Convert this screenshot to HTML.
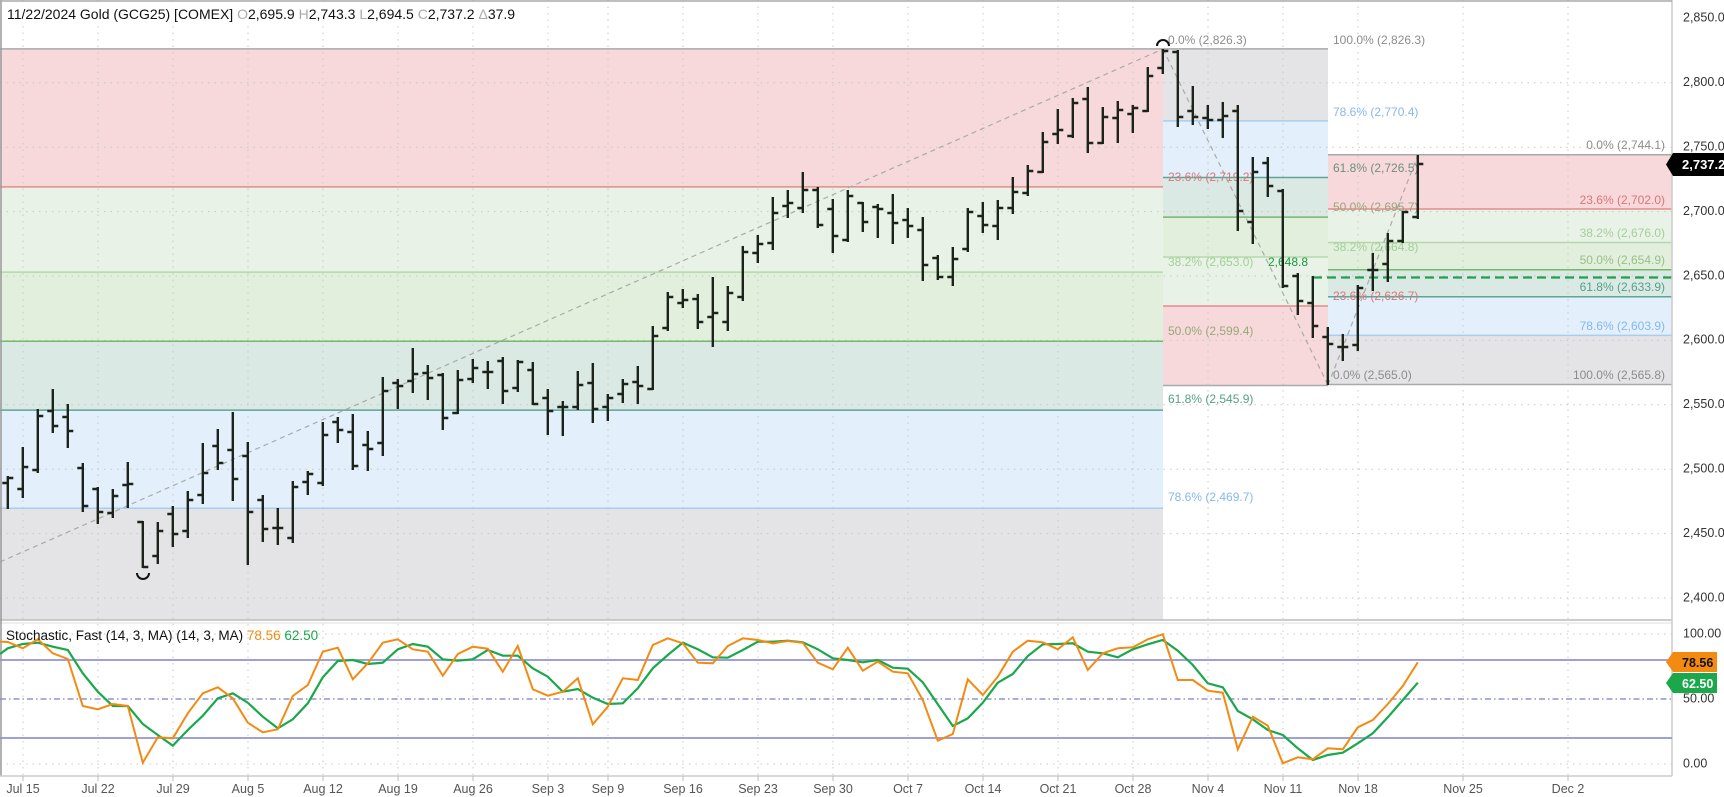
<!DOCTYPE html>
<html><head><meta charset="utf-8"><style>
html,body{margin:0;padding:0;background:#fff;}
svg{display:block;font-family:"Liberation Sans",sans-serif;}
</style></head><body>
<svg id="c" width="1724" height="797" xmlns="http://www.w3.org/2000/svg">
<rect x="0" y="0" width="1724" height="797" fill="#fff"/>
<!-- left fib bands -->
<rect x="0" y="48.9" width="1163" height="138" fill="#f7d9db"/>
<rect x="0" y="186.9" width="1163" height="85.2" fill="#e9f2e6"/>
<rect x="0" y="272.1" width="1163" height="69.1" fill="#e2efdd"/>
<rect x="0" y="341.2" width="1163" height="68.9" fill="#dbe9e5"/>
<rect x="0" y="410.1" width="1163" height="98.1" fill="#e3effb"/>
<rect x="0" y="508.2" width="1163" height="112" fill="#e4e4e6"/>
<!-- middle fib bands -->
<rect x="1163" y="48.9" width="165" height="72" fill="#e4e4e6"/>
<rect x="1163" y="120.9" width="165" height="56.6" fill="#e3effb"/>
<rect x="1163" y="177.5" width="165" height="39.6" fill="#dbe9e5"/>
<rect x="1163" y="217.1" width="165" height="39.9" fill="#e2efdd"/>
<rect x="1163" y="257" width="165" height="49" fill="#e9f2e6"/>
<rect x="1163" y="306" width="165" height="79.5" fill="#f7d9db"/>
<!-- right fib bands -->
<rect x="1328" y="154.8" width="344" height="54.2" fill="#f7d9db"/>
<rect x="1328" y="209" width="344" height="33.5" fill="#e9f2e6"/>
<rect x="1328" y="242.5" width="344" height="27.2" fill="#e2efdd"/>
<rect x="1328" y="269.7" width="344" height="27" fill="#dbe9e5"/>
<rect x="1328" y="296.7" width="344" height="38.7" fill="#e3effb"/>
<rect x="1328" y="335.4" width="344" height="49.1" fill="#e4e4e6"/>
<g id="grid" stroke="#c8c8c8" stroke-width="1" stroke-dasharray="1.5,5"></g>
<!-- fib lines -->
<g stroke-width="1.5" fill="none">
<line x1="0" y1="48.9" x2="1328" y2="48.9" stroke="#a9a9a9"/>
<line x1="0" y1="186.9" x2="1163" y2="186.9" stroke="#e58a8c"/>
<line x1="0" y1="272.1" x2="1163" y2="272.1" stroke="#b5d8ab"/>
<line x1="0" y1="341.2" x2="1163" y2="341.2" stroke="#74b86d"/>
<line x1="0" y1="410.1" x2="1163" y2="410.1" stroke="#5ea595"/>
<line x1="0" y1="508.2" x2="1163" y2="508.2" stroke="#a9cdf0"/>
<line x1="1163" y1="120.9" x2="1328" y2="120.9" stroke="#a9cdf0"/>
<line x1="1163" y1="177.5" x2="1328" y2="177.5" stroke="#5ea595"/>
<line x1="1163" y1="217.1" x2="1328" y2="217.1" stroke="#74b86d"/>
<line x1="1163" y1="257" x2="1328" y2="257" stroke="#b5d8ab"/>
<line x1="1163" y1="306" x2="1328" y2="306" stroke="#e58a8c"/>
<line x1="1163" y1="385.5" x2="1328" y2="385.5" stroke="#a9a9a9"/>
<line x1="1328" y1="154.8" x2="1672" y2="154.8" stroke="#a9a9a9"/>
<line x1="1328" y1="209" x2="1672" y2="209" stroke="#e58a8c"/>
<line x1="1328" y1="242.5" x2="1672" y2="242.5" stroke="#b5d8ab"/>
<line x1="1328" y1="269.7" x2="1672" y2="269.7" stroke="#74b86d"/>
<line x1="1328" y1="296.7" x2="1672" y2="296.7" stroke="#5ea595"/>
<line x1="1328" y1="335.4" x2="1672" y2="335.4" stroke="#a9cdf0"/>
<line x1="1328" y1="384.5" x2="1672" y2="384.5" stroke="#a9a9a9"/>
<line x1="1313" y1="277.5" x2="1672" y2="277.5" stroke="#22a04a" stroke-width="2.2" stroke-dasharray="9,5"/>
<line x1="0" y1="562" x2="1163" y2="49" stroke="#aaa" stroke-width="1.2" stroke-dasharray="5,4"/>
<line x1="1163" y1="49" x2="1328" y2="385" stroke="#aaa" stroke-width="1.2" stroke-dasharray="5,4"/>
<line x1="1328" y1="385" x2="1418" y2="155" stroke="#aaa" stroke-width="1.2" stroke-dasharray="5,4"/>
</g>
<!-- fib labels -->
<g font-size="12" dominant-baseline="middle">
<text x="1168" y="41" fill="#8c8c8c">0.0% (2,826.3)</text>
<text x="1168" y="178" fill="#d9767a">23.6% (2,719.2)</text>
<text x="1168" y="263" fill="#a3d098">38.2% (2,653.0)</text>
<text x="1168" y="332" fill="#98a878">50.0% (2,599.4)</text>
<text x="1168" y="400" fill="#55a085">61.8% (2,545.9)</text>
<text x="1168" y="498" fill="#86b8ea">78.6% (2,469.7)</text>
<text x="1333" y="41" fill="#8c8c8c">100.0% (2,826.3)</text>
<text x="1333" y="113" fill="#86b8ea">78.6% (2,770.4)</text>
<text x="1333" y="169" fill="#6f8f80">61.8% (2,726.5)</text>
<text x="1333" y="208" fill="#98a878">50.0% (2,695.7)</text>
<text x="1333" y="248" fill="#a3d098">38.2% (2,664.8)</text>
<text x="1333" y="297" fill="#d9767a">23.6% (2,626.7)</text>
<text x="1333" y="376" fill="#8c8c8c">0.0% (2,565.0)</text>
<text x="1268" y="263" fill="#1a9a3e">2,648.8</text>
<g text-anchor="end">
<text x="1665" y="146" fill="#8c8c8c">0.0% (2,744.1)</text>
<text x="1665" y="201" fill="#d9767a">23.6% (2,702.0)</text>
<text x="1665" y="234" fill="#a3d098">38.2% (2,676.0)</text>
<text x="1665" y="261" fill="#98c088">50.0% (2,654.9)</text>
<text x="1665" y="288" fill="#55a085">61.8% (2,633.9)</text>
<text x="1665" y="327" fill="#86b8ea">78.6% (2,603.9)</text>
<text x="1665" y="376" fill="#8c8c8c">100.0% (2,565.8)</text>
</g></g>
<path id="bars" fill="none" stroke="#1b231b" stroke-width="2.4"/>
<path d="M1157 46 a6 6 0 0 1 12 0" fill="none" stroke="#111" stroke-width="2"/>
<path d="M137 573 a6 6 0 0 0 12 0" fill="none" stroke="#111" stroke-width="2"/>
<!-- panel frame -->
<line x1="0" y1="620" x2="1672" y2="620" stroke="#bbb" stroke-width="1.5"/>
<line x1="0" y1="623" x2="1672" y2="623" stroke="#ddd" stroke-width="1"/>
<line x1="1672" y1="0" x2="1672" y2="776" stroke="#ccc" stroke-width="1.5"/>
<line x1="1" y1="0" x2="1" y2="776" stroke="#999" stroke-width="1.5"/>
<line x1="0" y1="1" x2="1672" y2="1" stroke="#aaa" stroke-width="1.5"/>
<line x1="0" y1="776" x2="1672" y2="776" stroke="#ccc" stroke-width="1.5"/>
<!-- stoch -->
<line x1="0" y1="660" x2="1672" y2="660" stroke="#9393d3" stroke-width="1.8"/>
<line x1="0" y1="738" x2="1672" y2="738" stroke="#9393d3" stroke-width="1.8"/>
<line x1="0" y1="699" x2="1672" y2="699" stroke="#9393d3" stroke-width="1.5" stroke-dasharray="6,3,1.5,3"/>
<path id="kg" fill="none" stroke="#1aa84a" stroke-width="2.2"/>
<path id="ko" fill="none" stroke="#f48a12" stroke-width="2"/>
<!-- header -->
<rect x="3" y="3" width="520" height="22" fill="#fff"/>
<text x="7" y="19" font-size="14" fill="#111">11/22/2024 Gold (GCG25) [COMEX] <tspan fill="#aaa">O</tspan>2,695.9 <tspan fill="#aaa">H</tspan>2,743.3 <tspan fill="#aaa">L</tspan>2,694.5 <tspan fill="#aaa">C</tspan>2,737.2 <tspan fill="#aaa">Δ</tspan>37.9</text>
<text x="6" y="640" font-size="13.5" fill="#111">Stochastic, Fast (14, 3, MA)  (14, 3, MA) <tspan fill="#f48a12">78.56</tspan> <tspan fill="#1aa84a">62.50</tspan></text>
<!-- right axis -->
<g font-size="12.5" fill="#333" dominant-baseline="middle">
<text x="1683" y="18.4">2,850.0</text><text x="1683" y="82.8">2,800.0</text>
<text x="1683" y="147.2">2,750.0</text><text x="1683" y="211.6">2,700.0</text>
<text x="1683" y="276">2,650.0</text><text x="1683" y="340.4">2,600.0</text>
<text x="1683" y="404.8">2,550.0</text><text x="1683" y="469.2">2,500.0</text>
<text x="1683" y="533.6">2,450.0</text><text x="1683" y="598">2,400.0</text>
<text x="1683" y="634">100.00</text><text x="1683" y="699">50.00</text><text x="1683" y="764">0.00</text>
</g>
<path d="M1666 164.5 L1673 153 H1724 V176 H1673 Z" fill="#000"/>
<text x="1682" y="169" font-size="13" font-weight="bold" fill="#fff">2,737.2</text>
<path d="M1666 662 L1673 652 H1717 V672 H1673 Z" fill="#f48a12"/>
<text x="1682" y="667" font-size="12.5" font-weight="bold" fill="#111">78.56</text>
<path d="M1666 683 L1673 673 H1717 V693 H1673 Z" fill="#1aa84a"/>
<text x="1682" y="688" font-size="12.5" font-weight="bold" fill="#fff">62.50</text>
<!-- dates -->
<g id="dates" font-size="12.5" fill="#555" text-anchor="middle">
<text x="23" y="793">Jul 15</text><text x="98" y="793">Jul 22</text><text x="173" y="793">Jul 29</text>
<text x="248" y="793">Aug 5</text><text x="323" y="793">Aug 12</text><text x="398" y="793">Aug 19</text>
<text x="473" y="793">Aug 26</text><text x="548" y="793">Sep 3</text><text x="608" y="793">Sep 9</text>
<text x="683" y="793">Sep 16</text><text x="758" y="793">Sep 23</text><text x="833" y="793">Sep 30</text>
<text x="908" y="793">Oct 7</text><text x="983" y="793">Oct 14</text><text x="1058" y="793">Oct 21</text>
<text x="1133" y="793">Oct 28</text><text x="1208" y="793">Nov 4</text><text x="1283" y="793">Nov 11</text>
<text x="1358" y="793">Nov 18</text><text x="1463" y="793">Nov 25</text><text x="1568" y="793">Dec 2</text>
</g>
<g id="ticks" stroke="#bbb" stroke-width="1"></g>
</svg>
<script>
var B=[[483,477,508,478],[489,448,497,467],[470,410,472,416],[411,390,432,426],[417,405,447,431],[468,464,511,506],[489,488,523,512],[513,490,517,496],[485,463,507,484],[522,522,567,567],[556,523,563,531],[514,507,546,534],[531,492,537,500],[495,444,503,473],[446,430,469,463],[450,413,500,479],[456,443,564,512],[500,496,541,529],[528,509,544,528],[538,482,542,487],[482,472,494,474],[483,423,485,435],[422,418,442,430],[432,415,469,466],[445,432,470,449],[443,378,455,391],[383,380,408,386],[381,349,392,374],[373,366,399,378],[375,374,429,418],[413,371,413,380],[379,360,382,368],[372,362,388,372],[361,358,403,391],[388,361,391,362],[370,363,404,404],[398,390,434,411],[407,402,435,407],[407,372,409,385],[383,364,422,409],[407,395,420,398],[394,380,402,384],[382,367,403,386],[389,327,389,336],[328,293,330,297],[303,290,307,300],[299,295,328,322],[317,278,346,313],[322,287,330,293],[297,247,300,252],[253,236,262,244],[243,198,249,213],[206,191,217,203],[208,173,212,190],[190,188,227,225],[209,200,252,236],[240,191,241,196],[203,203,231,222],[207,205,237,209],[213,195,243,223],[220,209,237,226],[230,218,280,265],[258,256,279,277],[277,248,285,259],[249,209,251,212],[216,203,232,225],[226,201,239,208],[208,178,213,192],[193,166,195,171],[172,133,172,142],[134,110,143,130],[136,99,137,103],[99,88,152,143],[143,108,143,117],[118,102,142,110],[114,106,132,108],[111,68,111,76],[68,50,73,51],[52,51,126,117],[111,87,124,117],[118,106,128,120],[120,103,137,116],[111,106,230,211],[222,158,243,172],[163,158,196,186],[191,190,287,286],[276,274,314,301],[303,277,337,326],[337,328,384,344],[347,335,360,347],[345,286,350,288],[270,254,290,270],[264,234,281,241],[241,212,242,212],[217,156,218,164]];
var d="";for(var k=0;k<B.length;k++){var i=k-1,x=22.8+15*i,b=B[k];d+="M"+x+" "+(b[1]-1)+"V"+(b[2]+1)+"M"+(x-5.5)+" "+b[0]+"h5.5M"+x+" "+b[3]+"h5.5";}
document.getElementById("bars").setAttribute("d",d);
var O=[236,255,228,270,287,428,438,422,428,598,522,525,450,390,372,405,478,507,498,398,365,265,253,348,300,238,228,258,265,337,272,250,256,325,248,378,397,385,345,483,430,345,350,245,225,240,298,300,248,225,230,240,233,238,298,318,253,322,295,325,330,410,532,512,348,395,340,265,232,237,258,222,320,270,255,252,228,213,350,350,382,388,558,460,487,600,582,588,555,558,492,470,422,368,297];
var G=[255,242,238,250,260,330,385,428,428,482,515,547,500,457,405,390,418,460,495,468,420,342,293,290,302,298,258,242,250,288,292,288,260,277,277,315,340,385,377,403,422,420,375,315,275,238,258,282,283,260,235,235,232,237,258,285,290,297,290,313,316,357,423,488,465,418,358,332,278,243,242,240,265,270,282,258,243,230,262,305,360,372,443,468,500,515,555,590,575,568,540,510,462,410,358];
function pth(a,s){var p="M0 "+(634+(s-212)/3);for(var k=0;k<a.length;k++){p+="L"+(22.8+15*(k-1))+" "+(634+(a[k]-212)/3).toFixed(1);}return p;}
document.getElementById("ko").setAttribute("d",pth(O,235));
document.getElementById("kg").setAttribute("d",pth(G,272));
var xs=[23,98,173,248,323,398,473,548,608,683,758,833,908,983,1058,1133,1208,1283,1358,1463,1568],g="",t="";
xs.forEach(function(x){g+='<line x1="'+x+'" y1="0" x2="'+x+'" y2="776"/>';t+='<line x1="'+x+'" y1="776" x2="'+x+'" y2="781"/>';});
[82.8,147.2,211.6,276,340.4,404.8,469.2,533.6,598,634,764].forEach(function(y){g+='<line x1="0" y1="'+y+'" x2="1672" y2="'+y+'"/>';});
document.getElementById("grid").innerHTML=g;document.getElementById("ticks").innerHTML=t;
</script>
</body></html>
